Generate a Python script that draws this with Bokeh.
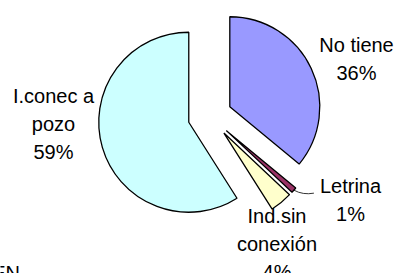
import math
from bokeh.plotting import figure
from bokeh.models import Range1d, ColumnDataSource
from bokeh.core.properties import value
from bokeh.embed import file_html
from bokeh.resources import INLINE

# ---- data ----
categories = ["No tiene", "Letrina", "Ind.sin\nconexión", "I.conec a\npozo"]
shares = [36, 1, 4, 59]
colors = ["#9999FF", "#993366", "#FFFFCC", "#CCFFFF"]
footer_text = "EN"

# ---- layout (pixels; 1 data unit = 1 px) ----
W, H = 395, 273
CX, CY = 209.4, 157.4     # pie centre
R = 90                    # radius
EXPLODE = 22              # explosion distance
FONT = "Liberation Sans"
FS = "20px"
LINE_GAP = 28
# first-line label anchors relative to pie centre
label_offsets = [(146.6, 71.6), (140.6, -70.1), (67.1, -99.4), (-156.4, 20.6)]

p = figure(width=W, height=H, output_backend="svg", toolbar_location=None,
           x_range=Range1d(0, W), y_range=Range1d(0, H),
           x_axis_location=None, y_axis_location=None, min_border=0)
p.outline_line_color = None
p.grid.visible = False
p.background_fill_color = "white"

total = sum(shares)
xs, ys, sa, ea = [], [], [], []
cum = 0.0
mids = []
for s in shares:
    t1 = cum / total * 360.0
    t2 = (cum + s) / total * 360.0
    cum += s
    tm = math.radians((t1 + t2) / 2)
    mids.append(tm)
    xs.append(CX + EXPLODE * math.sin(tm))
    ys.append(CY + EXPLODE * math.cos(tm))
    # clockwise from 12 o'clock -> bokeh angles
    sa.append(math.radians(90 - t1))
    ea.append(math.radians(90 - t2))

src = ColumnDataSource(dict(x=xs, y=ys, start=sa, end=ea, color=colors))
p.wedge(x="x", y="y", radius=R, start_angle="start", end_angle="end",
        direction="clock", fill_color="color", line_color="black",
        line_width=1.3, source=src)

# leader line for the small "Letrina" slice
i = 1
sx = xs[i] + R * math.sin(mids[i])
sy = ys[i] + R * math.cos(mids[i])
p.quadratic(x0=[sx], y0=[sy], x1=[sx + 20], y1=[sy - 3],
            cx=[sx + 9], cy=[sy - 5], line_color="black", line_width=0.8)

# labels
lx, ly, lt = [], [], []
for name, s, (ox, oy) in zip(categories, shares, label_offsets):
    lines = name.split("\n") + [f"{s}%"]
    for k, ln in enumerate(lines):
        lx.append(CX + ox)
        ly.append(CY + oy - k * LINE_GAP)
        lt.append(ln)
p.text(x=lx, y=ly, text=lt, text_align="center", text_baseline="alphabetic",
       text_font=value(FONT), text_font_size=FS, text_color="black")

# clipped footer text at bottom-left
p.text(x=[19.5], y=[1], text=[footer_text], text_align="right",
       text_baseline="alphabetic", text_font=value(FONT),
       text_font_size=FS, text_color="black")

open("out.html", "w").write(file_html(p, INLINE))
